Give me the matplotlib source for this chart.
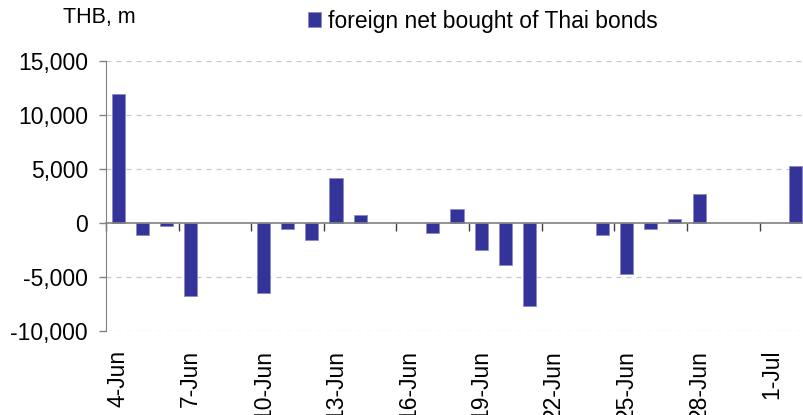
import matplotlib
matplotlib.use("Agg")
import matplotlib.pyplot as plt
from matplotlib.transforms import blended_transform_factory

plt.rcParams["font.family"] = ["Liberation Sans", "DejaVu Sans"]

# day offsets from 4-Jun and net foreign purchases (THB m)
days = [0, 1, 2, 3, 6, 7, 8, 9, 10, 13, 14, 15, 16, 17, 20, 21, 22, 23, 24, 28]
values = [11900, -1100, -250, -6800, -6500, -600, -1600, 4200, 750,
          -950, 1250, -2500, -3900, -7700, -1100, -4750, -600, 400, 2650, 5250]
tick_days = [0, 3, 6, 9, 12, 15, 18, 21, 24, 27]
tick_labels = ["4-Jun", "7-Jun", "10-Jun", "13-Jun", "16-Jun", "19-Jun",
               "22-Jun", "25-Jun", "28-Jun", "1-Jul"]
yticks = [-10000, -5000, 0, 5000, 10000, 15000]
series_name = "foreign net bought of Thai bonds"

fs = 16.5

fig = plt.figure(figsize=(8.04, 4.15), dpi=100)
ax = fig.add_axes([106 / 804, 84 / 415, 702 / 804, 270 / 415])

ax.bar(days, values, width=0.54, color="#333399", edgecolor="#8c8cc6",
       linewidth=0.6, zorder=3, label=series_name)

ax.set_xlim(-0.5, 28.5)
ax.set_ylim(-10000, 15000)
ax.set_yticks(yticks)
ax.set_yticklabels([f"{v:,}" for v in yticks], fontsize=fs)
for y in yticks:
    if y != 0:
        ax.axhline(y, color="#c8c8c8", linewidth=0.9, linestyle=(0, (4, 4)), zorder=1)

for side in ["top", "right"]:
    ax.spines[side].set_visible(False)
ax.spines["left"].set_color("#808080")
ax.spines["bottom"].set_position(("data", 0))
ax.spines["bottom"].set_color("#808080")
ax.spines["bottom"].set_linewidth(1.2)
ax.spines["bottom"].set_zorder(4)

ax.tick_params(axis="y", length=5, width=1, color="#808080", pad=8)
ax.set_xticks([d - 0.5 for d in tick_days])
ax.set_xticklabels([])
ax.tick_params(axis="x", length=6, width=1, color="#404040", direction="out")

trans = blended_transform_factory(ax.transData, ax.transAxes)
for d, lab in zip(tick_days, tick_labels):
    ax.text(d, -0.07, lab, rotation=90, ha="center", va="top",
            fontsize=fs, transform=trans)

fig.text(63 / 804, 1 - 17 / 415, "THB, m", fontsize=15.5, va="center", ha="left")
ax.legend(loc="upper left", bbox_to_anchor=(303 / 804, 1 - 5 / 415),
          bbox_transform=fig.transFigure, frameon=False, fontsize=fs,
          handlelength=0.6, handleheight=0.6, handletextpad=0.3,
          borderaxespad=0, borderpad=0.2)

fig.savefig("out.png", dpi=100)
